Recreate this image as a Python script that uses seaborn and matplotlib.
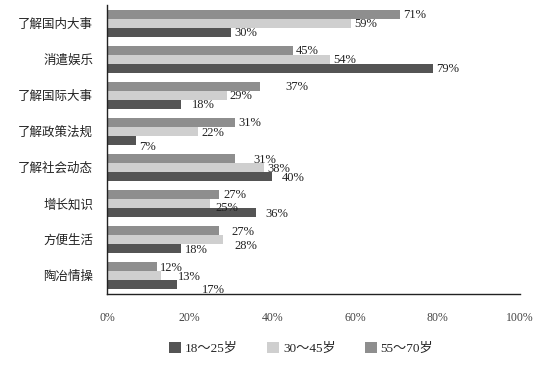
import numpy as np
import pandas as pd
import matplotlib.pyplot as plt
import seaborn as sns
from matplotlib.patches import Patch
from matplotlib.ticker import FixedLocator

# 데이터
categories = ["了解国内大事", "消遣娱乐", "了解国际大事", "了解政策法规",
              "了解社会动态", "增长知识", "方便生活", "陶冶情操"]
age_groups = ["18～25岁", "30～45岁", "55～70岁"]
v_18_25 = [30, 79, 18, 7, 40, 36, 18, 17]
v_30_45 = [59, 54, 29, 22, 38, 25, 28, 13]
v_55_70 = [71, 45, 37, 31, 31, 27, 27, 12]
colors = {"18～25岁": "#545454", "30～45岁": "#cfcfcf", "55～70岁": "#8e8e8e"}

# 라벨 위치 보정 (픽셀 단위, 원본 그림 참고)
label_shift = {
    ("55～70岁", 2): (22, 0), ("18～25岁", 2): (7, 0),
    ("18～25岁", 3): (0, 5),
    ("55～70岁", 4): (15, 0), ("18～25岁", 4): (6, 0),
    ("55～70岁", 5): (2, -1), ("30～45岁", 5): (2, 3), ("18～25岁", 5): (7, 0),
    ("55～70岁", 6): (10, 0), ("30～45岁", 6): (9, 5),
    ("30～45岁", 7): (14, 0), ("18～25岁", 7): (22, 4),
}

df = pd.DataFrame({
    "类别": categories * 3,
    "年龄": [age_groups[0]] * 8 + [age_groups[1]] * 8 + [age_groups[2]] * 8,
    "比例": v_18_25 + v_30_45 + v_55_70,
})

sns.set_style("white")
plt.rcParams['font.family'] = ['Liberation Serif', 'Noto Sans CJK SC', 'DejaVu Sans']

fig = plt.figure(figsize=(5.38, 3.67), dpi=100)
ax = fig.add_axes([0.199, 0.199, 0.768, 0.787])

draw_order = ["55～70岁", "30～45岁", "18～25岁"]
sns.barplot(data=df, y="类别", x="比例", hue="年龄", hue_order=draw_order,
            order=categories, palette=colors, width=0.75, orient="h",
            ax=ax, legend=False, saturation=1, linewidth=0)

# 막대 끝에 값 표시
for grp, cont in zip(draw_order, ax.containers):
    for i, bar in enumerate(cont):
        w = bar.get_width()
        y = bar.get_y() + bar.get_height() / 2
        dx, dy = label_shift.get((grp, i), (0, 0))
        ax.annotate(f"{int(w)}%", xy=(w, y), xytext=(3 + dx, -1 - dy),
                    textcoords="offset pixels", va="center", ha="left",
                    fontsize=9, color="#222222")

ax.set_xlim(0, 100)
ax.set_ylim(len(categories) - 0.5, -0.5)
ax.set_xticks(np.arange(0, 101, 20))
ax.set_xticklabels([f"{t}%" for t in range(0, 101, 20)], fontsize=8.5, color="#444444")
ax.tick_params(axis="x", direction="in", length=4, pad=13, color="#222222")
ax.tick_params(axis="y", which="major", length=0, labelsize=9, pad=10, labelcolor="#222222")
ax.yaxis.set_minor_locator(FixedLocator(np.arange(0.5, len(categories) - 0.5, 1)))
ax.tick_params(axis="y", which="minor", direction="in", length=4, color="#222222")
ax.set_xlabel("")
ax.set_ylabel("")
for s in ["top", "right"]:
    ax.spines[s].set_visible(False)
for s in ["left", "bottom"]:
    ax.spines[s].set_color("#222222")
    ax.spines[s].set_linewidth(1.0)

handles = [Patch(facecolor=colors[g], edgecolor="none") for g in age_groups]
fig.legend(handles, age_groups, loc="center", bbox_to_anchor=(0.56, 0.05), ncol=3,
           frameon=False, fontsize=9.5, handlelength=0.9, handleheight=0.9,
           handletextpad=0.3, columnspacing=2.2)

fig.savefig("out.png", dpi=100)
